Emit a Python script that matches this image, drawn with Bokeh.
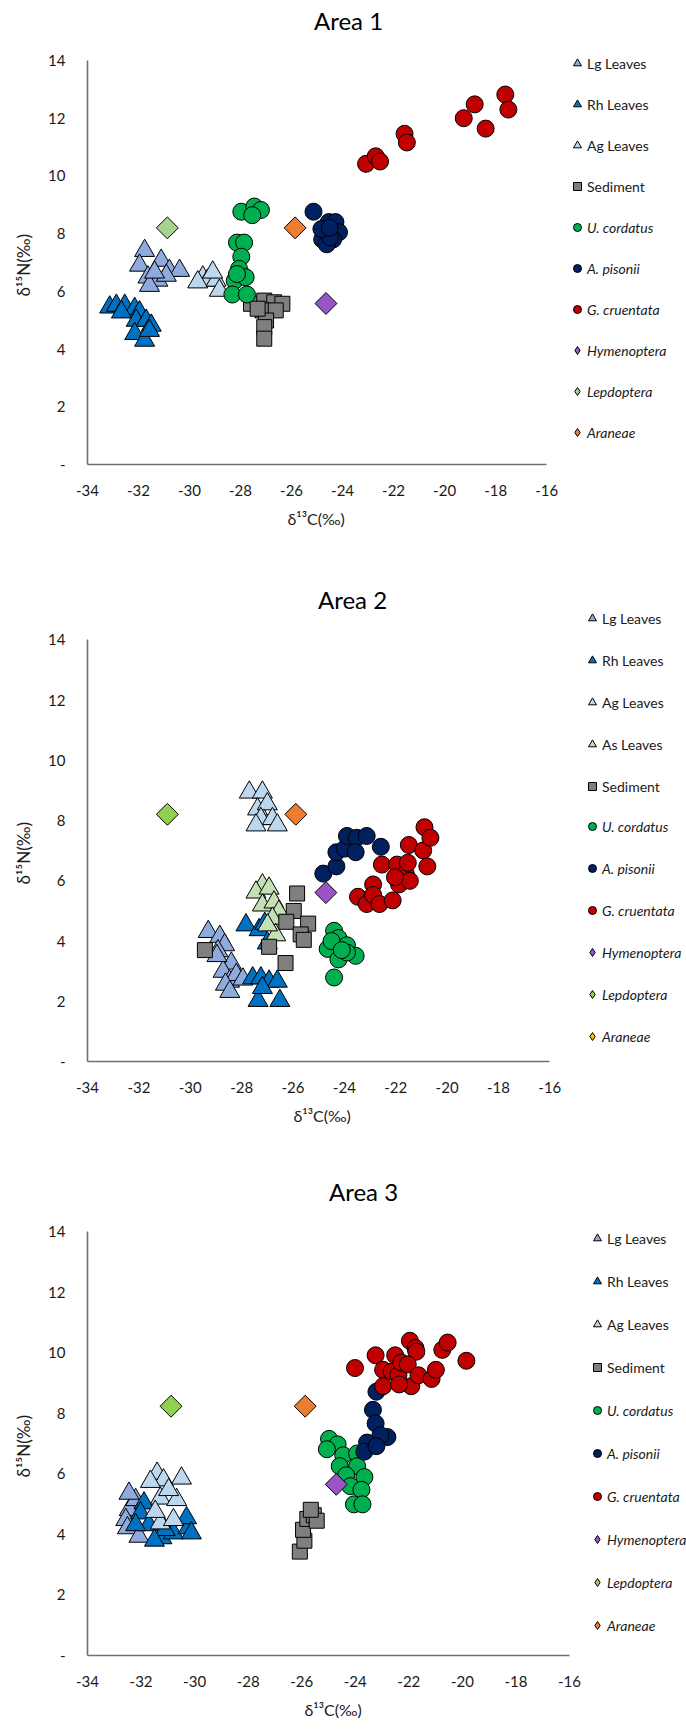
import numpy as np
from bokeh.plotting import figure
from bokeh.models import Range1d, FixedTicker, Legend, LegendItem, Label, Title
from bokeh.layouts import column
from bokeh.embed import file_html
from bokeh.resources import INLINE

# ---------------- axis ticks ----------------
X_TICKS = [-34, -32, -30, -28, -26, -24, -22, -20, -18, -16]
X_TICK_LABELS = ["-34", "-32", "-30", "-28", "-26", "-24", "-22", "-20", "-18", "-16"]
Y_TICKS = [0, 2, 4, 6, 8, 10, 12, 14]
Y_TICK_LABELS = ["-", "2", "4", "6", "8", "10", "12", "14"]
X_TITLE = "δ¹³C(‰)"
Y_TITLE = "δ¹⁵N(‰)"

# ---------------- Area 1 ----------------
A1_LG_X = [-31.76, -31.96, -31.11, -30.79, -30.39, -31.63, -31.24, -31.57, -30.91, -31.37]
A1_LG_Y = [7.41, 6.90, 7.07, 6.72, 6.72, 6.49, 6.38, 6.20, 6.55, 6.66]
A1_RH_X = [-33.13, -32.87, -32.54, -32.15, -31.96, -32.09, -31.70, -31.50, -32.15, -31.76, -31.57, -32.67]
A1_RH_Y = [5.45, 5.51, 5.51, 5.40, 5.28, 4.99, 4.99, 4.82, 4.53, 4.30, 4.64, 5.28]
A1_AG_X = [-29.48, -29.29, -29.68, -28.96, -28.83, -29.09]
A1_AG_Y = [6.49, 6.38, 6.32, 6.38, 6.03, 6.66]
A1_SED_X = [-27.59, -27.07, -26.68, -26.36, -27.14, -26.62, -27.00, -27.07, -27.07, -27.33]
A1_SED_Y = [5.57, 5.68, 5.62, 5.57, 5.34, 5.34, 4.99, 4.76, 4.36, 5.40]
A1_UC_X = [-27.97, -27.46, -27.20, -27.54, -28.14, -27.86, -27.97, -28.06, -28.23, -27.80, -28.32, -27.75, -28.14]
A1_UC_Y = [8.76, 8.94, 8.82, 8.64, 7.69, 7.69, 7.20, 6.78, 6.37, 6.49, 5.89, 5.89, 6.60]
A1_AP_X = [-25.14, -24.54, -24.28, -24.14, -24.37, -24.80, -24.62, -24.49, -24.83, -24.50]
A1_AP_Y = [8.76, 8.40, 8.40, 8.05, 7.80, 7.80, 7.63, 7.87, 8.16, 8.20]
A1_GC_X = [-23.08, -22.70, -22.53, -21.57, -21.48, -19.25, -18.82, -18.39, -17.62, -17.50]
A1_GC_Y = [10.42, 10.68, 10.50, 11.46, 11.16, 12.00, 12.48, 11.64, 12.82, 12.30]
A1_HY_X = [-24.65]
A1_HY_Y = [5.58]
A1_LE_X = [-30.87]
A1_LE_Y = [8.20]
A1_AR_X = [-25.86]
A1_AR_Y = [8.20]

# ---------------- Area 2 ----------------
A2_LG_X = [-29.30, -28.85, -28.66, -28.92, -28.40, -28.72, -28.47, -28.21, -28.63, -28.46, -28.96, -27.95]
A2_LG_Y = [4.31, 4.15, 3.87, 3.67, 3.26, 2.99, 2.66, 2.88, 2.56, 2.32, 3.51, 2.73]
A2_RH_X = [-27.83, -27.32, -27.00, -27.57, -27.25, -26.93, -26.61, -27.36, -26.51, -27.19, -27.10]
A2_RH_Y = [4.53, 4.37, 3.93, 2.77, 2.77, 2.66, 2.66, 2.02, 2.02, 2.45, 4.58]
A2_AG_X = [-27.70, -27.19, -27.38, -27.00, -27.25, -26.80, -26.61, -27.44]
A2_AG_Y = [8.94, 8.94, 8.38, 8.55, 8.06, 8.06, 7.85, 7.85]
A2_AS_X = [-27.19, -27.44, -26.93, -27.19, -26.74, -26.55, -26.80, -26.67, -26.99]
A2_AS_Y = [5.86, 5.62, 5.75, 5.19, 5.29, 4.98, 4.75, 4.20, 4.53]
A2_SED_X = [-29.43, -26.93, -26.29, -25.84, -25.97, -26.26, -25.41, -25.70, -25.58]
A2_SED_Y = [3.70, 3.81, 3.27, 5.58, 5.00, 4.64, 4.58, 4.22, 4.04]
A2_UC_X = [-24.40, -24.23, -23.90, -23.56, -24.65, -24.23, -24.40, -23.90, -24.50, -24.10]
A2_UC_Y = [4.34, 4.10, 3.86, 3.51, 3.74, 3.39, 2.79, 3.62, 4.00, 3.70]
A2_AP_X = [-24.82, -24.31, -24.31, -23.98, -23.90, -23.52, -23.56, -23.13, -22.58]
A2_AP_Y = [6.24, 6.48, 6.95, 7.07, 7.49, 7.43, 6.95, 7.49, 7.13]
A2_GC_X = [-23.47, -23.13, -22.88, -22.88, -22.63, -22.12, -22.54, -21.95, -21.87, -21.61, -21.45,
           -21.53, -21.49, -20.93, -20.88, -20.65, -20.77, -22.03]
A2_GC_Y = [5.47, 5.23, 5.88, 5.53, 5.23, 5.35, 6.54, 6.54, 5.88, 6.24, 6.00,
           6.60, 7.19, 7.01, 7.78, 7.43, 6.48, 6.12]
A2_HY_X = [-24.72]
A2_HY_Y = [5.61]
A2_LE_X = [-30.89]
A2_LE_Y = [8.21]
A2_AR_X = [-25.89]
A2_AR_Y = [8.21]

# ---------------- Area 3 ----------------
A3_LG_X = [-32.44, -32.57, -32.51, -32.20, -32.08, -32.45]
A3_LG_Y = [4.81, 4.48, 4.21, 5.14, 3.93, 5.35]
A3_RH_X = [-31.89, -32.02, -31.71, -31.22, -30.79, -30.24, -30.30, -30.12, -31.10, -32.20, -31.50]
A3_RH_Y = [5.03, 4.70, 4.31, 3.88, 4.04, 4.21, 4.54, 4.04, 4.15, 4.31, 3.80]
A3_AG_X = [-31.40, -30.49, -31.16, -31.65, -31.28, -30.67, -30.97, -31.28, -30.79, -31.47]
A3_AG_Y = [6.01, 5.85, 5.79, 5.74, 5.19, 5.14, 5.47, 4.37, 4.48, 4.75]
A3_SED_X = [-26.07, -25.90, -25.95, -25.79, -25.55, -25.44, -25.66]
A3_SED_Y = [3.43, 3.79, 4.15, 4.51, 4.63, 4.45, 4.81]
A3_UC_X = [-24.98, -24.66, -25.06, -24.45, -23.93, -24.58, -23.93, -24.34, -23.66, -24.18, -23.77, -24.05, -23.73]
A3_UC_Y = [7.15, 6.97, 6.81, 6.61, 6.67, 6.25, 6.25, 5.95, 5.89, 5.59, 5.47, 4.99, 4.99]
A3_AP_X = [-23.21, -23.34, -23.24, -22.80, -23.06, -23.56, -23.66, -23.21]
A3_AP_Y = [8.71, 8.11, 7.66, 7.21, 7.27, 7.03, 6.73, 6.91]
A3_GC_X = [-24.01, -23.24, -22.96, -22.96, -22.51, -22.64, -22.39, -22.28, -21.96, -21.75,
           -21.72, -22.04, -21.91, -21.64, -21.15, -20.99, -20.75, -20.55, -19.85, -22.36]
A3_GC_Y = [9.49, 9.91, 9.43, 8.89, 9.91, 9.37, 9.25, 9.67, 10.39, 10.15,
           10.03, 9.61, 8.89, 9.25, 9.13, 9.43, 10.09, 10.33, 9.73, 8.95]
A3_HY_X = [-24.71]
A3_HY_Y = [5.65]
A3_LE_X = [-30.88]
A3_LE_Y = [8.23]
A3_AR_X = [-25.87]
A3_AR_Y = [8.23]

# ---------------- styles ----------------
FONT = "Lato"
STYLE = {
    "Lg Leaves":    dict(marker="triangle", color="#8FAADC", size=20, angle=0.0),
    "Rh Leaves":    dict(marker="triangle", color="#0070C0", size=20, angle=0.0),
    "Ag Leaves":    dict(marker="triangle", color="#BDD7EE", size=20, angle=0.0),
    "As Leaves":    dict(marker="triangle", color="#C5E0B4", size=20, angle=0.0),
    "Sediment":     dict(marker="square",   color="#7F7F7F", size=15, angle=0.0),
    "U. cordatus":  dict(marker="circle",   color="#00B050", size=17, angle=0.0),
    "A. pisonii":   dict(marker="circle",   color="#002060", size=17, angle=0.0),
    "G. cruentata": dict(marker="circle",   color="#C00000", size=17, angle=0.0),
    "Hymenoptera":  dict(marker="square",   color="#9954C8", size=15.5, angle=np.pi / 4),
    "Lepdoptera":   dict(marker="square",   color="#92D050", size=15.5, angle=np.pi / 4),
    "Araneae":      dict(marker="square",   color="#ED7D31", size=15.5, angle=np.pi / 4),
}
ITALIC = {"U. cordatus", "A. pisonii", "G. cruentata", "Hymenoptera", "Lepdoptera", "Araneae"}

W = 686
L = 82  # common left border (frames are aligned in a column)


def make_area(title, series, H, x0_px_per_unit, axis_y, px_per_unit_y, title_xy,
              xtitle_cx, xtitle_pad, ytitle_cy, leg_x, leg_first_y, leg_pitch,
              color_over=None, legend_color_over=None):
    color_over = color_over or {}
    legend_color_over = legend_color_over or {}
    frame_w = W - L
    x_max = -34 + frame_w / x0_px_per_unit
    y_max = axis_y / px_per_unit_y
    p = figure(width=W, height=H, output_backend="svg", toolbar_location=None,
               x_range=Range1d(-34, x_max), y_range=Range1d(0, y_max),
               min_border_left=L, min_border_right=0,
               min_border_top=0, min_border_bottom=H - axis_y,
               background_fill_color="white", border_fill_color="white",
               outline_line_color=None)
    p.grid.visible = False
    for ax, ticks, labels, bnds in ((p.xaxis[0], X_TICKS, X_TICK_LABELS, (-34, -16)),
                                    (p.yaxis[0], Y_TICKS, Y_TICK_LABELS, (0, 14))):
        ax.ticker = FixedTicker(ticks=ticks)
        ax.bounds = bnds
        ax.major_label_overrides = {t: l for t, l in zip(ticks, labels)}
        ax.major_tick_out = 0
        ax.major_tick_in = 0
        ax.minor_tick_out = 0
        ax.minor_tick_in = 0
        ax.axis_line_color = "#707070"
        ax.axis_line_width = 1.6
        ax.major_label_text_font = FONT
        ax.major_label_text_font_size = "15px"
        ax.major_label_text_color = "#1a1a1a"
    p.xaxis.major_label_standoff = 20
    p.yaxis.major_label_standoff = 22

    # axis titles (placed as titles so they centre on the drawn axis, not the frame)
    xt_w = 60
    p.add_layout(Title(text=X_TITLE, align="left", offset=xtitle_cx - xt_w / 2 - L,
                       vertical_align="top", standoff=xtitle_pad,
                       text_font=FONT, text_font_size="16px", text_font_style="normal",
                       text_color="#1a1a1a"), "below")
    yt_w = 68
    p.add_layout(Title(text=Y_TITLE, align="left", offset=axis_y - ytitle_cy - yt_w / 2,
                       vertical_align="middle", standoff=22,
                       text_font=FONT, text_font_size="17px", text_font_style="normal",
                       text_color="#1a1a1a"), "left")

    items_n, items_i = [], []
    for name, xs, ys in series:
        st = STYLE[name]
        col = color_over.get(name, st["color"])
        r = p.scatter(xs, ys, marker=st["marker"], size=st["size"], angle=st["angle"],
                      fill_color=col, line_color="black", line_width=1)
        lr = r
        if st["angle"] != 0.0 or name in legend_color_over:
            # legend swatch: same data, drawn as an (unrotated) diamond, hidden in the plot
            lr = p.scatter(xs, ys, marker="diamond", size=st["size"] * 1.4,
                           fill_color=legend_color_over.get(name, col),
                           line_color="black", line_width=1, visible=False)
        (items_i if name in ITALIC else items_n).append(LegendItem(label=name, renderers=[lr]))

    for k, (items, style) in enumerate(((items_n, "normal"), (items_i, "italic"))):
        start = 0 if k == 0 else len(items_n)
        n = len(items)
        first_c = leg_first_y + start * leg_pitch
        top_y = first_c - 10
        sp = int(round(leg_pitch - 20))
        height = n * 20 + (n - 1) * sp
        bottom_y = top_y + height
        leg = Legend(items=items, location=(leg_x - L, axis_y - bottom_y),
                     glyph_width=20, glyph_height=20, label_height=20, label_standoff=0,
                     spacing=sp, padding=0, margin=0,
                     border_line_color=None, background_fill_alpha=0,
                     inactive_fill_alpha=0,
                     label_text_font=FONT, label_text_font_size="14px",
                     label_text_font_style=style, label_text_color="#1a1a1a")
        p.add_layout(leg, "center")

    tx, ty = title_xy
    p.add_layout(Label(x=tx - L, y=axis_y - ty, x_units="screen", y_units="screen",
                       text=title, text_font=FONT, text_font_size="24px", text_align="center",
                       text_baseline="middle", text_color="#000000"))
    return p


p1 = make_area("Area 1", [
    ("Lg Leaves", A1_LG_X, A1_LG_Y), ("Rh Leaves", A1_RH_X, A1_RH_Y), ("Ag Leaves", A1_AG_X, A1_AG_Y),
    ("Sediment", A1_SED_X, A1_SED_Y), ("U. cordatus", A1_UC_X, A1_UC_Y), ("A. pisonii", A1_AP_X, A1_AP_Y),
    ("G. cruentata", A1_GC_X, A1_GC_Y), ("Hymenoptera", A1_HY_X, A1_HY_Y), ("Lepdoptera", A1_LE_X, A1_LE_Y),
    ("Araneae", A1_AR_X, A1_AR_Y)],
    H=560, x0_px_per_unit=25.72, axis_y=464, px_per_unit_y=28.857, title_xy=(343, 20),
    xtitle_cx=312, xtitle_pad=20, ytitle_cy=262,
    leg_x=562, leg_first_y=63.3, leg_pitch=41, color_over={"Lepdoptera": "#A9D18E"})

p2 = make_area("Area 2", [
    ("Lg Leaves", A2_LG_X, A2_LG_Y), ("Rh Leaves", A2_RH_X, A2_RH_Y), ("Ag Leaves", A2_AG_X, A2_AG_Y),
    ("As Leaves", A2_AS_X, A2_AS_Y), ("Sediment", A2_SED_X, A2_SED_Y), ("U. cordatus", A2_UC_X, A2_UC_Y),
    ("A. pisonii", A2_AP_X, A2_AP_Y), ("G. cruentata", A2_GC_X, A2_GC_Y), ("Hymenoptera", A2_HY_X, A2_HY_Y),
    ("Lepdoptera", A2_LE_X, A2_LE_Y), ("Araneae", A2_AR_X, A2_AR_Y)],
    H=590, x0_px_per_unit=25.9, axis_y=501, px_per_unit_y=30.11, title_xy=(347, 39),
    xtitle_cx=318, xtitle_pad=20, ytitle_cy=290,
    leg_x=577, leg_first_y=58, leg_pitch=41.6, legend_color_over={"Araneae": "#FFC000"})

p3 = make_area("Area 3", [
    ("Lg Leaves", A3_LG_X, A3_LG_Y), ("Rh Leaves", A3_RH_X, A3_RH_Y), ("Ag Leaves", A3_AG_X, A3_AG_Y),
    ("Sediment", A3_SED_X, A3_SED_Y), ("U. cordatus", A3_UC_X, A3_UC_Y), ("A. pisonii", A3_AP_X, A3_AP_Y),
    ("G. cruentata", A3_GC_X, A3_GC_Y), ("Hymenoptera", A3_HY_X, A3_HY_Y), ("Lepdoptera", A3_LE_X, A3_LE_Y),
    ("Araneae", A3_AR_X, A3_AR_Y)],
    H=581, x0_px_per_unit=27.0, axis_y=505, px_per_unit_y=30.29, title_xy=(358, 41),
    xtitle_cx=329, xtitle_pad=20, ytitle_cy=293,
    leg_x=582, leg_first_y=88.4, leg_pitch=43)

layout = column(p1, p2, p3, spacing=0)
open("out.html", "w").write(file_html(layout, INLINE))
